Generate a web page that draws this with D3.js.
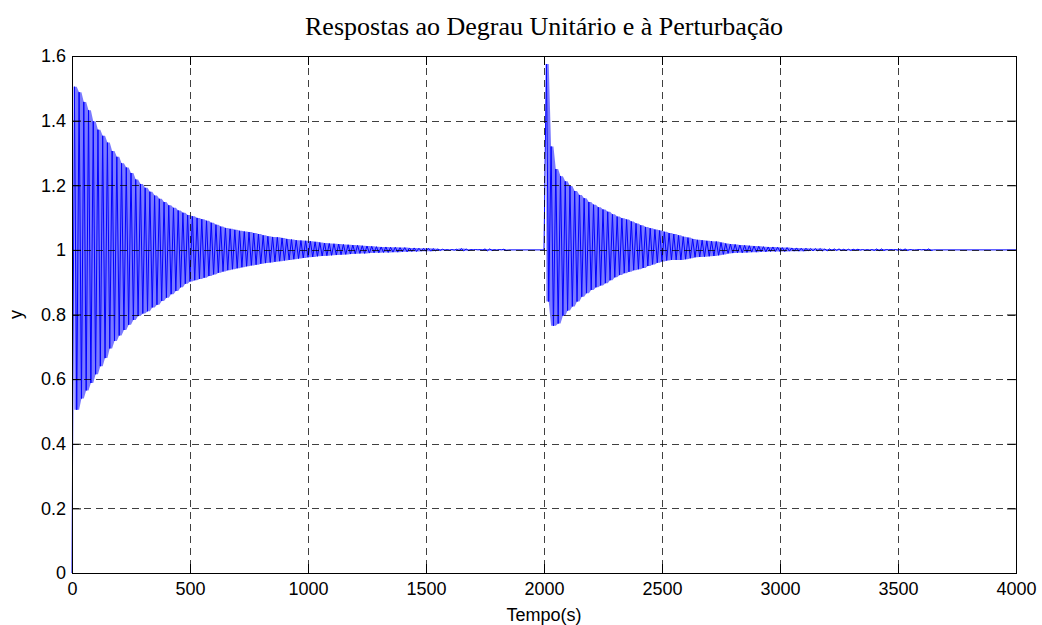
<!DOCTYPE html>
<html>
<head>
<meta charset="utf-8">
<script src="https://cdn.jsdelivr.net/npm/d3@7"></script>
<style>
  html, body { margin: 0; padding: 0; background: #fff; }
  svg { display: block; }
  .tick text { font-family: "Liberation Sans", Arial, sans-serif; font-size: 18px; fill: #000; }
</style>
</head>
<body>
<svg id="chart" width="1042" height="625"></svg>
<script>
// ---- data ----
const titleText = "Respostas ao Degrau Unitário e à Perturbação";
const xLabel = "Tempo(s)";
const yLabel = "y";
const xTicks = [0, 500, 1000, 1500, 2000, 2500, 3000, 3500, 4000];
const xTickLabels = ["0", "500", "1000", "1500", "2000", "2500", "3000", "3500", "4000"];
const yTicks = [0, 0.2, 0.4, 0.6, 0.8, 1.0, 1.2, 1.4, 1.6];
const yTickLabels = ["0", "0.2", "0.4", "0.6", "0.8", "1", "1.2", "1.4", "1.6"];
const xDomain = [0, 4000];
const yDomain = [0, 1.6];

// step response: alternating peaks/troughs, one value every 10 s starting at t = 0
const stepStart = 0;
const stepInterval = 10;
const stepResponse = [
  0.000, 1.505, 0.505, 1.488, 0.540, 1.458, 0.565, 1.432, 0.588, 1.398,
  0.615, 1.372, 0.640, 1.353, 0.665, 1.332, 0.695, 1.306, 0.718, 1.288,
  0.735, 1.268, 0.752, 1.255, 0.768, 1.238, 0.783, 1.218, 0.795, 1.204,
  0.803, 1.192, 0.810, 1.180, 0.822, 1.168, 0.830, 1.158, 0.842, 1.148,
  0.852, 1.138, 0.863, 1.130, 0.873, 1.122, 0.884, 1.115, 0.895, 1.108,
  0.902, 1.104, 0.906, 1.099, 0.910, 1.095, 0.914, 1.090, 0.919, 1.084,
  0.924, 1.078, 0.929, 1.072, 0.933, 1.068, 0.937, 1.065, 0.940, 1.062,
  0.943, 1.059, 0.946, 1.057, 0.949, 1.055, 0.952, 1.052, 0.954, 1.049,
  0.957, 1.045, 0.959, 1.042, 0.961, 1.040, 0.963, 1.039, 0.965, 1.037,
  0.967, 1.034, 0.969, 1.032, 0.971, 1.030, 0.973, 1.029, 0.975, 1.028,
  0.977, 1.027, 0.978, 1.025, 0.980, 1.023, 0.981, 1.021, 0.982, 1.020,
  0.983, 1.019, 0.984, 1.018, 0.985, 1.017, 0.986, 1.016, 0.987, 1.015,
  0.988, 1.014, 0.989, 1.013, 0.989, 1.012, 0.990, 1.011, 0.991, 1.010,
  0.991, 1.009, 0.992, 1.009, 0.992, 1.008, 0.993, 1.008, 0.993, 1.007,
  0.994, 1.007, 0.994, 1.006, 0.995, 1.006, 0.995, 1.005, 0.996, 1.005,
  0.996, 1.005, 0.996, 1.004, 0.997, 1.003, 0.998, 1.002, 0.999, 1.001,
  0.999, 1.001, 0.999, 1.002, 0.997, 1.004, 0.997, 1.003, 0.998, 1.001,
  1.000, 1.001, 1.000, 1.001, 0.999, 1.003, 0.997, 1.003, 0.998, 1.001,
  0.999, 1.001, 1.000, 1.002, 0.998, 1.000
];

// disturbance response: alternating peaks/troughs, one value every 10 s starting at t = 2000
const distStart = 2000;
const distInterval = 10;
const disturbanceResponse = [
  1.000, 1.575, 0.840, 1.320, 0.765, 1.250, 0.772, 1.228, 0.796, 1.212,
  0.812, 1.198, 0.825, 1.182, 0.840, 1.170, 0.855, 1.160, 0.866, 1.148,
  0.876, 1.140, 0.884, 1.132, 0.890, 1.125, 0.897, 1.118, 0.906, 1.110,
  0.915, 1.103, 0.922, 1.098, 0.928, 1.094, 0.932, 1.088, 0.937, 1.082,
  0.940, 1.076, 0.944, 1.071, 0.950, 1.067, 0.955, 1.063, 0.960, 1.060,
  0.964, 1.056, 0.967, 1.052, 0.969, 1.049, 0.969, 1.045, 0.969, 1.041,
  0.971, 1.038, 0.974, 1.034, 0.977, 1.031, 0.978, 1.030, 0.979, 1.028,
  0.980, 1.027, 0.981, 1.026, 0.983, 1.023, 0.986, 1.020, 0.989, 1.018,
  0.990, 1.017, 0.991, 1.015, 0.991, 1.014, 0.992, 1.013, 0.993, 1.012,
  0.993, 1.011, 0.994, 1.010, 0.994, 1.009, 0.995, 1.009, 0.995, 1.008,
  0.995, 1.007, 0.995, 1.007, 0.996, 1.006, 0.996, 1.006, 0.996, 1.005,
  0.996, 1.005, 0.997, 1.004, 0.997, 1.004, 0.997, 1.004, 0.997, 1.003,
  0.997, 1.003, 0.998, 1.003, 0.998, 1.003, 0.998, 1.002, 0.998, 1.002,
  0.998, 1.002, 0.999, 1.002, 0.999, 1.001, 0.999, 1.001, 0.999, 1.001,
  0.998, 1.003, 0.997, 1.003, 0.998, 1.001, 1.000, 1.001, 1.000, 1.001,
  0.999, 1.002, 0.998, 1.003, 0.998, 1.001, 1.000, 1.000, 1.000, 1.001,
  1.000, 1.001, 0.999, 1.003, 0.998, 1.000
];
const finalPoint = { t: 4000, v: 1.0 };

// ---- layout ----
const W = 1042, H = 625;
const margin = { left: 72, right: 26, top: 56, bottom: 52 };
const plotL = margin.left, plotR = W - margin.right;
const plotT = margin.top, plotB = H - margin.bottom;

const svg = d3.select("#chart");
const x = d3.scaleLinear().domain(xDomain).range([plotL, plotR]);
const y = d3.scaleLinear().domain(yDomain).range([plotB, plotT]);

// build the series
function toPoints(arr, start, step) {
  return arr.map((v, i) => ({ t: start + i * step, v }));
}
const stepPts = toPoints(stepResponse, stepStart, stepInterval);
const distPts = toPoints(disturbanceResponse, distStart, distInterval);
const points = stepPts.concat(distPts, [finalPoint]);

// envelope band of the dense oscillation (local min/max of neighbouring extrema)
function band(pts) {
  return pts.map((p, i) => {
    const nb = [(pts[i - 1] || p).v, p.v, (pts[i + 1] || p).v];
    return { t: p.t, lo: d3.min(nb), hi: d3.max(nb) };
  });
}

svg.append("rect").attr("x", 0).attr("y", 0).attr("width", W).attr("height", H).attr("fill", "#fff");

const area = d3.area().x(d => x(d.t)).y0(d => y(d.lo)).y1(d => y(d.hi)).curve(d3.curveLinear);
[band(stepPts.slice(1)), band(distPts.slice(1))].forEach(b => {
  svg.append("path").datum(b)
    .attr("fill", "#4646ff").attr("fill-opacity", 0.72)
    .attr("stroke", "none")
    .attr("d", area);
});

// series line
const line = d3.line().x(d => x(d.t)).y(d => y(d.v));
svg.append("path")
  .datum(points)
  .attr("fill", "none")
  .attr("stroke", "#0000ff")
  .attr("stroke-width", 1)
  .attr("d", line);

// grid
const grid = svg.append("g").attr("class", "grid");
grid.selectAll("line.vx")
  .data(xTicks.filter(t => t > xDomain[0] && t < xDomain[1]))
  .enter().append("line")
  .attr("x1", d => Math.round(x(d)) + 0.5).attr("x2", d => Math.round(x(d)) + 0.5)
  .attr("y1", plotT).attr("y2", plotB)
  .attr("stroke", "#000").attr("stroke-opacity", 0.75)
  .attr("stroke-width", 1).attr("stroke-dasharray", "7,5");
grid.selectAll("line.hy")
  .data(yTicks.filter(t => t > yDomain[0] && t < yDomain[1]))
  .enter().append("line")
  .attr("y1", d => Math.round(y(d)) + 0.5).attr("y2", d => Math.round(y(d)) + 0.5)
  .attr("x1", plotL).attr("x2", plotR)
  .attr("stroke", "#000").attr("stroke-opacity", 0.75)
  .attr("stroke-width", 1).attr("stroke-dasharray", "7,5");

// axes (MATLAB style: inward ticks on all four sides)
const tickLen = 9;
const xAxisB = d3.axisBottom(x).tickValues(xTicks)
  .tickFormat((d, i) => xTickLabels[i]).tickSizeInner(-tickLen).tickSizeOuter(0).tickPadding(9);
const xAxisT = d3.axisTop(x).tickValues(xTicks).tickFormat("").tickSizeInner(-tickLen).tickSizeOuter(0);
const yAxisL = d3.axisLeft(y).tickValues(yTicks)
  .tickFormat((d, i) => yTickLabels[i]).tickSizeInner(-tickLen).tickSizeOuter(0).tickPadding(6);
const yAxisR = d3.axisRight(y).tickValues(yTicks).tickFormat("").tickSizeInner(-tickLen).tickSizeOuter(0);

function styleAxis(g) {
  g.selectAll("path.domain").attr("stroke", "#000").attr("stroke-width", 1);
  g.selectAll(".tick line").attr("stroke", "#000").attr("stroke-width", 1);
}
svg.append("g").attr("transform", `translate(0,${plotB})`).call(xAxisB).call(styleAxis)
  .selectAll("text").attr("dy", "0.71em");
svg.append("g").attr("transform", `translate(0,${plotT})`).call(xAxisT).call(styleAxis);
svg.append("g").attr("transform", `translate(${plotL},0)`).call(yAxisL).call(styleAxis);
svg.append("g").attr("transform", `translate(${plotR},0)`).call(yAxisR).call(styleAxis);
svg.selectAll("path.domain").attr("shape-rendering", "crispEdges");

// title and axis labels
svg.append("text")
  .attr("x", (plotL + plotR) / 2).attr("y", 35)
  .attr("text-anchor", "middle")
  .attr("font-family", "'Liberation Serif', 'Times New Roman', serif")
  .attr("font-size", 26)
  .attr("fill", "#000")
  .text(titleText);

svg.append("text")
  .attr("x", (plotL + plotR) / 2).attr("y", 621)
  .attr("text-anchor", "middle")
  .attr("font-family", "'Liberation Sans', Arial, sans-serif")
  .attr("font-size", 18)
  .attr("fill", "#000")
  .text(xLabel);

svg.append("text")
  .attr("transform", `translate(22,${(plotT + plotB) / 2}) rotate(-90)`)
  .attr("text-anchor", "middle")
  .attr("font-family", "'Liberation Sans', Arial, sans-serif")
  .attr("font-size", 18)
  .attr("fill", "#000")
  .text(yLabel);
</script>
</body>
</html>
